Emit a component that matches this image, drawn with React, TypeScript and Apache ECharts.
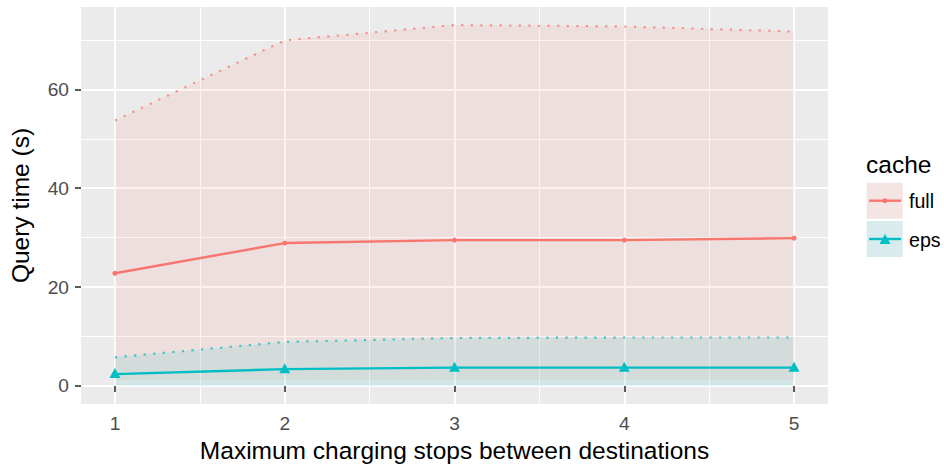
import { useEffect, useRef } from 'react';
import * as echarts from 'echarts';

// Maximum charging stops between destinations
const stops = [1, 2, 3, 4, 5];

// Query time (s) with the full cache: mean, max, min
const fullMean = [22.8, 28.9, 29.5, 29.5, 29.9];
const fullMax = [53.7, 69.9, 73.0, 72.7, 71.7];
const fullMin = [1.2, 1.2, 1.2, 1.2, 1.2];

// Query time (s) with the eps cache: mean, max, min
const epsMean = [2.4, 3.4, 3.7, 3.7, 3.7];
const epsMax = [5.8, 8.9, 9.7, 9.8, 9.8];
const epsMin = [0, 0, 0, 0, 0];

// Tick positions (major) and minor grid positions
const xTicks = [1, 2, 3, 4, 5];
const xMinor = [1.5, 2.5, 3.5, 4.5];
const yTicks = [0, 20, 40, 60];
const yMinor = [10, 30, 50, 70];

const FULL = '#F8766D';
const EPS = '#00BFC4';
const FONT = '"Liberation Sans", Arial, Helvetica, sans-serif';

const pts = (vals: number[]) => stops.map((x, i) => [x, vals[i]]);

// A min..max band drawn as one polygon through the axis scales
const ribbon = (name: string, lo: number[], hi: number[], fill: string) => ({
  type: 'custom',
  name,
  silent: true,
  data: stops.map((x, i) => [x, lo[i], hi[i]]),
  encode: { x: 0, y: [1, 2] },
  renderItem: (params: any, api: any) => {
    if (params.dataIndex !== 0) return null;
    const upper = stops.map((x, i) => api.coord([x, hi[i]]));
    const lower = stops.map((x, i) => api.coord([x, lo[i]])).reverse();
    return {
      type: 'polygon',
      shape: { points: [...upper, ...lower] },
      style: { fill },
    };
  },
});

const dotted = (name: string, vals: number[], color: string) => ({
  type: 'line',
  name,
  data: pts(vals),
  symbol: 'none',
  silent: true,
  lineStyle: { color, width: 2.2, type: [2.2, 7.4] },
});

export default function App() {
  const ref = useRef<HTMLDivElement>(null);

  useEffect(() => {
    if (!ref.current) return;
    const chart = echarts.init(ref.current, null, { renderer: 'svg' });

    const hiddenAxisParts = {
      axisLine: { show: false },
      axisLabel: { show: false },
    };

    chart.setOption({
      animation: false,
      backgroundColor: '#FFFFFF',
      grid: {
        left: 80,
        right: 116,
        top: 7,
        bottom: 62,
        show: true,
        backgroundColor: '#EBEBEB',
        borderWidth: 0,
      },
      xAxis: [
        {
          type: 'value',
          min: 0.8,
          max: 5.2,
          axisLine: { show: false },
          axisTick: {
            show: true,
            customValues: xTicks,
            length: 6,
            lineStyle: { color: '#333333', width: 1.6 },
          },
          axisLabel: {
            customValues: xTicks,
            color: '#4D4D4D',
            fontSize: 19.2,
            fontFamily: FONT,
            margin: 10,
          },
          splitLine: { show: true, lineStyle: { color: '#FFFFFF', width: 2 } },
          name: 'Maximum charging stops between destinations',
          nameLocation: 'middle',
          nameGap: 34,
          nameTextStyle: { color: '#000000', fontSize: 24.5, fontFamily: FONT },
        },
        {
          type: 'value',
          min: 0.8,
          max: 5.2,
          position: 'top',
          ...hiddenAxisParts,
          axisTick: { show: false, customValues: xMinor },
          splitLine: { show: true, lineStyle: { color: '#FFFFFF', width: 1 } },
        },
      ],
      yAxis: [
        {
          type: 'value',
          min: -3.65,
          max: 76.65,
          axisLine: { show: false },
          axisTick: {
            show: true,
            customValues: yTicks,
            length: 6,
            lineStyle: { color: '#333333', width: 1.6 },
          },
          axisLabel: {
            customValues: yTicks,
            color: '#4D4D4D',
            fontSize: 19.2,
            fontFamily: FONT,
            margin: 12,
          },
          splitLine: { show: true, lineStyle: { color: '#FFFFFF', width: 2 } },
          name: 'Query time (s)',
          nameLocation: 'middle',
          nameGap: 48,
          nameTextStyle: { color: '#000000', fontSize: 24.5, fontFamily: FONT },
        },
        {
          type: 'value',
          min: -3.65,
          max: 76.65,
          position: 'right',
          ...hiddenAxisParts,
          axisTick: { show: false, customValues: yMinor },
          splitLine: { show: true, lineStyle: { color: '#FFFFFF', width: 1 } },
        },
      ],
      series: [
        ribbon('full-range', fullMin, fullMax, 'rgba(248,118,109,0.1)'),
        ribbon('eps-range', epsMin, epsMax, 'rgba(0,191,196,0.1)'),
        dotted('full-max', fullMax, 'rgba(248,118,109,0.75)'),
        dotted('eps-max', epsMax, 'rgba(0,191,196,0.75)'),
        {
          type: 'line',
          name: 'full',
          data: pts(fullMean),
          symbol: 'circle',
          symbolSize: 5,
          lineStyle: { color: FULL, width: 2.4 },
          itemStyle: { color: FULL },
        },
        {
          type: 'line',
          name: 'eps',
          data: pts(epsMean),
          symbol: 'triangle',
          symbolSize: [11, 10],
          symbolOffset: [0, -1],
          lineStyle: { color: EPS, width: 2.4 },
          itemStyle: { color: EPS },
        },
      ],
      graphic: [
        {
          type: 'text',
          x: 866,
          y: 164,
          style: { text: 'cache', fontSize: 24.5, fontFamily: FONT, fill: '#000000', verticalAlign: 'middle' },
        },
        { type: 'rect', shape: { x: 866.7, y: 182.7, width: 36, height: 36 }, style: { fill: '#F2F2F2' } },
        { type: 'rect', shape: { x: 866.7, y: 182.7, width: 36, height: 36 }, style: { fill: 'rgba(248,118,109,0.1)' } },
        { type: 'line', shape: { x1: 869, y1: 200.7, x2: 901, y2: 200.7 }, style: { stroke: FULL, lineWidth: 2.4 } },
        { type: 'circle', shape: { cx: 885, cy: 200.7, r: 2.5 }, style: { fill: FULL } },
        {
          type: 'text',
          x: 909,
          y: 201,
          style: { text: 'full', fontSize: 19.6, fontFamily: FONT, fill: '#000000', verticalAlign: 'middle' },
        },
        { type: 'rect', shape: { x: 866.7, y: 221, width: 36, height: 36 }, style: { fill: '#F2F2F2' } },
        { type: 'rect', shape: { x: 866.7, y: 221, width: 36, height: 36 }, style: { fill: 'rgba(0,191,196,0.1)' } },
        { type: 'line', shape: { x1: 869, y1: 239, x2: 901, y2: 239 }, style: { stroke: EPS, lineWidth: 2.4 } },
        {
          type: 'polygon',
          shape: { points: [[879.5, 244], [890.5, 244], [885, 234]] },
          style: { fill: EPS },
        },
        {
          type: 'text',
          x: 909,
          y: 239.5,
          style: { text: 'eps', fontSize: 19.6, fontFamily: FONT, fill: '#000000', verticalAlign: 'middle' },
        },
      ],
    });

    return () => chart.dispose();
  }, []);

  return (
    <div
      ref={ref}
      style={{ position: 'absolute', left: 0, top: 0, width: 944, height: 468 }}
    />
  );
}
